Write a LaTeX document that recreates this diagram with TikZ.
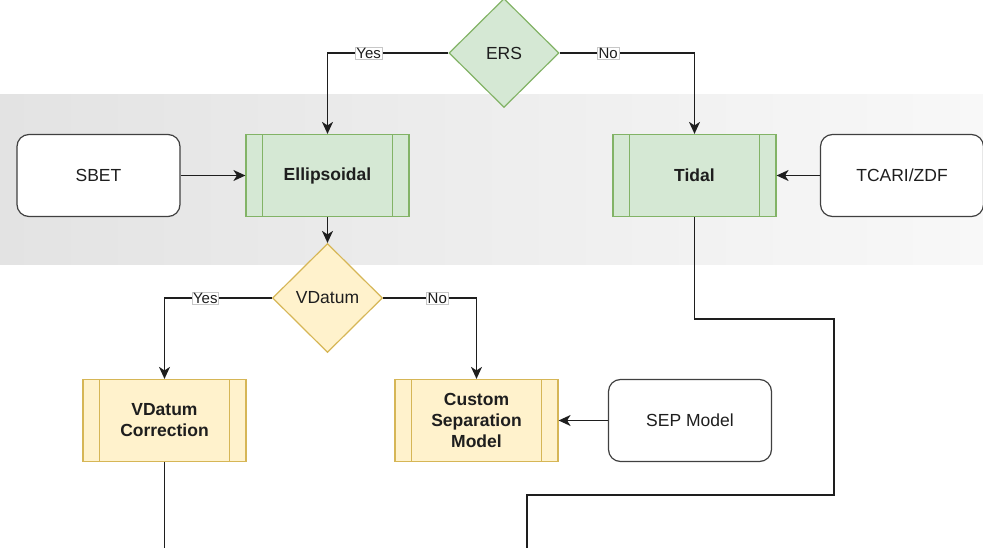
\documentclass[tikz,border=0pt]{standalone}
\usepackage{fontspec}
\setmainfont{Liberation Sans}
\usetikzlibrary{shapes.geometric,arrows.meta}

\definecolor{gfill}{HTML}{D5E8D4}
\definecolor{gline}{HTML}{82B366}
\definecolor{yfill}{HTML}{FFF2CC}
\definecolor{yline}{HTML}{D6B656}
\definecolor{ink}{HTML}{1E1E1E}
\definecolor{bandL}{HTML}{E3E3E3}
\definecolor{bandR}{HTML}{F8F8F8}

\tikzset{
  base/.style={inner sep=0pt, align=center, text=ink, font=\fontsize{17.5}{21}\selectfont},
  source/.style={base, draw=ink!85, line width=1.2pt, fill=white, rounded corners=12pt,
    minimum width=163pt, minimum height=82pt},
  subproc/.style={base, rectangle, line width=1.2pt, minimum width=163pt, minimum height=82pt,
    font=\fontsize{17.5}{21}\selectfont\bfseries,
    path picture={
      \draw[subline] ([xshift=16.5pt]path picture bounding box.north west) -- ([xshift=16.5pt]path picture bounding box.south west);
      \draw[subline] ([xshift=-16.5pt]path picture bounding box.north east) -- ([xshift=-16.5pt]path picture bounding box.south east);
    }},
  greenproc/.style={subproc, fill=gfill, draw=gline, subline/.style={draw=gline, line width=1.2pt}},
  yellowproc/.style={subproc, fill=yfill, draw=yline, subline/.style={draw=yline, line width=1.2pt}},
  decision/.style={base, diamond, aspect=1, line width=1.2pt, minimum width=110pt, minimum height=109pt},
  conn/.style={draw=ink, line width=1.3pt},
  arr/.style={conn, -{Stealth[length=12pt, width=11pt, inset=3.5pt]}},
  lbl/.style={fill=white, draw=black!22, line width=0.5pt, inner sep=1pt, text=ink,
    font=\fontsize{15}{17}\selectfont},
}

\begin{document}
\begin{tikzpicture}[x=1pt, y=-1pt]
  \useasboundingbox (0,0) rectangle (983,548);

  % shaded band behind the first row
  \shade[left color=bandL, right color=bandR] (0,95) rectangle (983,265);

  % decisions
  \node[decision, fill=gfill, draw=gline] (ers) at (504,53) {ERS};
  \node[decision, fill=yfill, draw=yline] (vd) at (327.5,298) {VDatum};

  % first row
  \node[source] (sbet) at (98.5,175.5) {SBET};
  \node[greenproc] (ell) at (327.5,175.5) {Ellipsoidal};
  \node[greenproc] (tid) at (694.5,175.5) {Tidal};
  \node[source] (tcari) at (902,175.5) {TCARI/ZDF};

  % second row
  \node[yellowproc] (vdc) at (164.5,420.5) {VDatum\\Correction};
  \node[yellowproc] (csm) at (476.5,420.5) {Custom\\Separation\\Model};
  \node[source] (sep) at (690,420.5) {SEP Model};

  % route of the tidal branch and the open ends at the bottom
  \coordinate (t1) at (834,319);
  \coordinate (t2) at (527,495);
  \coordinate (tend) at (527,549);
  \coordinate (vend) at (164.5,549);

  % connectors
  \draw[arr] (ers.west) -| (ell.north) node[lbl, pos=0.33] {Yes};
  \draw[arr] (ers.east) -| (tid.north) node[lbl, pos=0.18] {No};
  \draw[arr] (sbet.east) -- (ell.west);
  \draw[arr] (tcari.west) -- (tid.east);
  \draw[arr] (ell.south) -- (vd.north);
  \draw[arr] (vd.west) -| (vdc.north) node[lbl, pos=0.31] {Yes};
  \draw[arr] (vd.east) -| (csm.north) node[lbl, pos=0.29] {No};
  \draw[arr] (sep.west) -- (csm.east);
  \draw[conn] (tid.south) |- (t1) |- (t2) -- (tend);
  \draw[conn] (vdc.south) -- (vend);
\end{tikzpicture}
\end{document}
